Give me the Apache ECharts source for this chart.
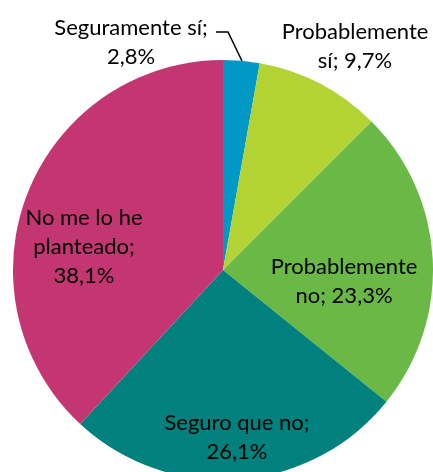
<!DOCTYPE html>
<html>
<head>
<meta charset="utf-8">
<script src="https://cdn.jsdelivr.net/npm/echarts@6/dist/echarts.min.js"></script>
<style>
  html, body { margin: 0; padding: 0; background: #fff; }
  #chart { width: 433px; height: 472px; }
</style>
</head>
<body>
<div id="chart"></div>
<script>
// Answer categories and their shares (%)
const categories = ['Seguramente sí', 'Probablemente sí', 'Probablemente no', 'Seguro que no', 'No me lo he planteado'];
const values = [2.8, 9.7, 23.3, 26.1, 38.1];
const labelTexts = [
  'Seguramente sí;\n2,8%',
  'Probablemente\nsí; 9,7%',
  'Probablemente\nno; 23,3%',
  'Seguro que no;\n26,1%',
  'No me lo he\nplanteado;\n38,1%'
];
const colors = ['#0099c6', '#b3d335', '#6ab946', '#00817d', '#c33671'];

// Label anchor points (centre of each text block)
const labelPos = [[131, 42], [355, 46], [344, 281], [237, 437], [84, 247]];

const chart = echarts.init(document.getElementById('chart'), null, { renderer: 'canvas' });
chart.setOption({
  animation: false,
  series: [{
    type: 'pie',
    center: [223, 270],
    radius: 210,
    startAngle: 90,
    clockwise: true,
    data: categories.map((c, i) => ({
      name: c,
      value: values[i],
      itemStyle: { color: colors[i] },
      label: { formatter: labelTexts[i] },
      labelLine: { show: i === 0 }
    })),
    label: {
      show: true,
      position: 'outside',
      color: '#000',
      fontFamily: 'Lato',
      fontSize: 22,
      lineHeight: 29,
      align: 'center',
      overflow: 'none'
    },
    labelLine: {
      show: true,
      lineStyle: { color: '#000', width: 1.5 }
    },
    labelLayout: function (params) {
      const i = params.dataIndex;
      const out = {
        x: labelPos[i][0],
        y: labelPos[i][1],
        align: 'center',
        verticalAlign: 'middle'
      };
      if (i === 0) {
        out.labelLinePoints = [[216, 32], [228, 32], [242, 61]];
      }
      return out;
    }
  }]
});
</script>
</body>
</html>
